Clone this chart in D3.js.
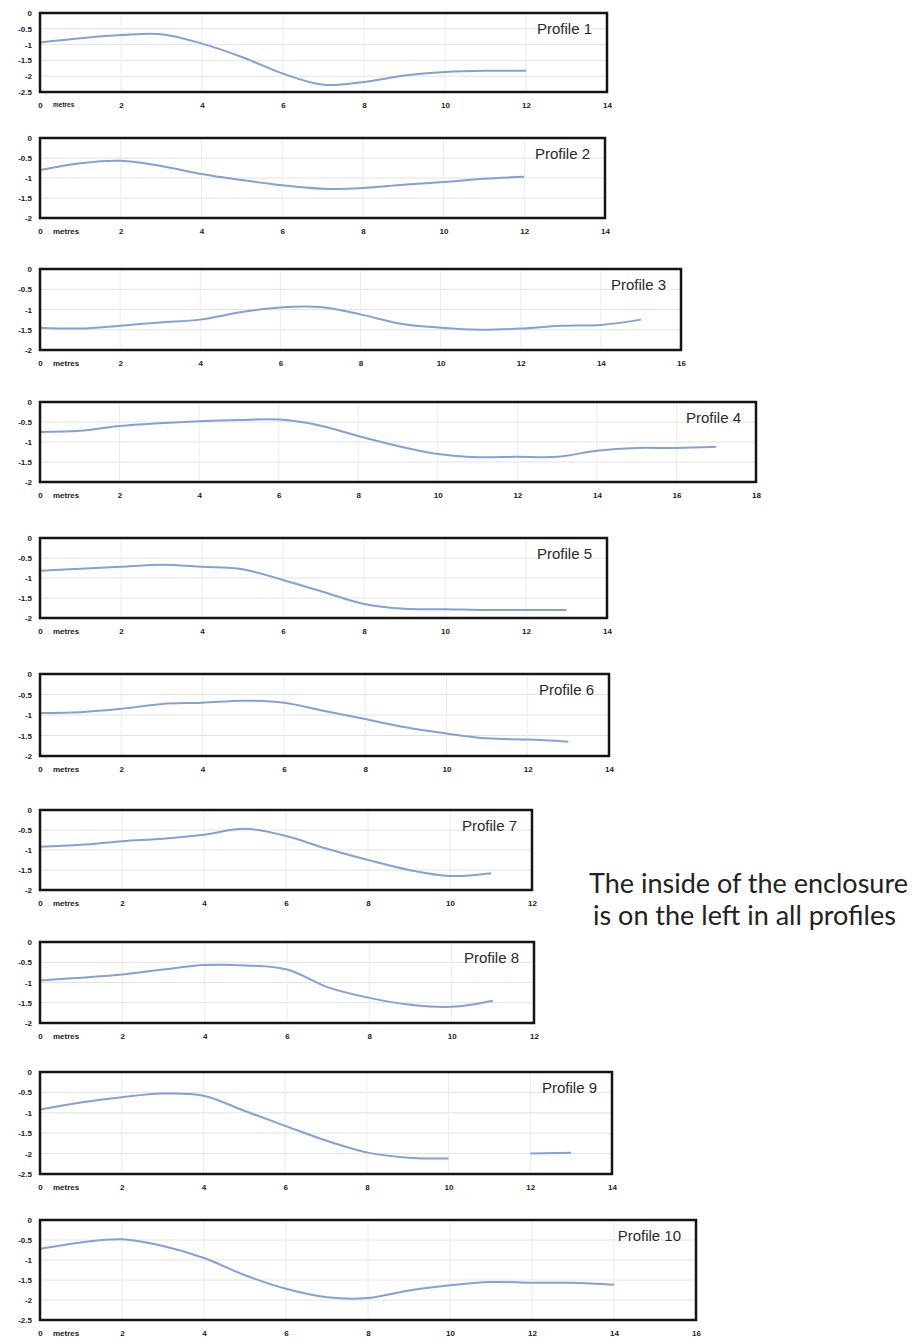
<!DOCTYPE html>
<html>
<head>
<meta charset="utf-8">
<script src="https://cdn.jsdelivr.net/npm/d3@7"></script>
<style>
  body { margin: 0; background: #fff; }
  svg { display: block; }
  .tick text { font-family: "Liberation Sans", Arial, sans-serif; font-size: 8px; font-weight: 700; fill: #222; }
  .title { font-family: "Liberation Sans", Arial, sans-serif; font-size: 15px; fill: #2a2a2a; }
  .note { font-family: Lato, "Open Sans", sans-serif; font-size: 27px; fill: #222; }
</style>
</head>
<body>
<svg id="chart" width="918" height="1338"></svg>
<script>
// depth profiles: [distance in metres, depth]
const profile1 = [[0,-0.93],[1,-0.8],[2,-0.7],[3,-0.67],[4,-0.97],[5,-1.4],[6,-1.92],[7,-2.27],[8,-2.18],[9,-1.98],[10,-1.87],[11,-1.83],[12,-1.83]];
const profile2 = [[0,-0.8],[1,-0.63],[2,-0.57],[3,-0.7],[4,-0.9],[5,-1.05],[6,-1.18],[7,-1.27],[8,-1.25],[9,-1.17],[10,-1.1],[11,-1.02],[12,-0.97]];
const profile3 = [[0,-1.45],[1,-1.47],[2,-1.4],[3,-1.32],[4,-1.25],[5,-1.07],[6,-0.95],[7,-0.94],[8,-1.12],[9,-1.35],[10,-1.45],[11,-1.5],[12,-1.47],[13,-1.4],[14,-1.38],[15,-1.25]];
const profile4 = [[0,-0.75],[1,-0.72],[2,-0.6],[3,-0.53],[4,-0.48],[5,-0.45],[6,-0.44],[7,-0.58],[8,-0.85],[9,-1.1],[10,-1.3],[11,-1.38],[12,-1.37],[13,-1.37],[14,-1.22],[15,-1.15],[16,-1.15],[17,-1.12]];
const profile5 = [[0,-0.82],[1,-0.77],[2,-0.72],[3,-0.67],[4,-0.72],[5,-0.78],[6,-1.05],[7,-1.35],[8,-1.65],[9,-1.77],[10,-1.78],[11,-1.8],[12,-1.8],[13,-1.8]];
const profile6 = [[0,-0.95],[1,-0.93],[2,-0.85],[3,-0.73],[4,-0.7],[5,-0.65],[6,-0.7],[7,-0.9],[8,-1.1],[9,-1.3],[10,-1.45],[11,-1.57],[12,-1.6],[13,-1.65]];
const profile7 = [[0,-0.92],[1,-0.87],[2,-0.78],[3,-0.72],[4,-0.62],[5,-0.47],[6,-0.65],[7,-0.97],[8,-1.25],[9,-1.5],[10,-1.65],[11,-1.58]];
const profile8 = [[0,-0.95],[1,-0.88],[2,-0.8],[3,-0.68],[4,-0.57],[5,-0.58],[6,-0.68],[7,-1.12],[8,-1.38],[9,-1.55],[10,-1.6],[11,-1.45]];
const profile9 = [[0,-0.92],[1,-0.75],[2,-0.62],[3,-0.53],[4,-0.58],[5,-0.95],[6,-1.32],[7,-1.68],[8,-1.97],[9,-2.1],[10,-2.12],[11,null],[12,-2.0],[13,-1.98]];
const profile10 = [[0,-0.72],[1,-0.56],[2,-0.48],[3,-0.65],[4,-0.95],[5,-1.38],[6,-1.72],[7,-1.93],[8,-1.95],[9,-1.76],[10,-1.63],[11,-1.55],[12,-1.57],[13,-1.57],[14,-1.62]];

const profiles = [profile1, profile2, profile3, profile4, profile5, profile6, profile7, profile8, profile9, profile10];
const titles = profiles.map((p, i) => "Profile " + (i + 1));
const xMaxes = [14, 14, 16, 18, 14, 14, 12, 12, 14, 16];
const yMins = [-2.5, -2, -2, -2, -2, -2, -2, -2, -2.5, -2.5];
const noteLines = ["The inside of the enclosure", "is on the left in all profiles"];

// panel placement (pixels)
const left = 40;
const tops = [13, 138, 269, 402, 538, 674, 810, 942, 1072, 1220];
const bottoms = [92, 218, 350, 482, 618, 756, 890, 1023, 1174, 1320];
const rights = [607, 605, 681, 756, 607, 609, 532, 534, 612, 696];

const svg = d3.select("#chart");

profiles.forEach((data, i) => {
  const x = d3.scaleLinear().domain([0, xMaxes[i]]).range([left, rights[i]]);
  const y = d3.scaleLinear().domain([yMins[i], 0]).range([bottoms[i], tops[i]]);
  const g = svg.append("g");

  const yTicks = d3.range(0, yMins[i] - 0.01, -0.5);
  const xTicks = d3.range(0, xMaxes[i] + 0.01, 2);

  // grid
  g.append("g").selectAll("line.h").data(yTicks).join("line")
    .attr("x1", left).attr("x2", rights[i])
    .attr("y1", d => y(d)).attr("y2", d => y(d))
    .attr("stroke", "#e2e2e2").attr("stroke-width", 1);
  g.append("g").selectAll("line.v").data(xTicks).join("line")
    .attr("x1", d => x(d)).attr("x2", d => x(d))
    .attr("y1", tops[i]).attr("y2", bottoms[i])
    .attr("stroke", "#ececec").attr("stroke-width", 1);

  // profile line
  const line = d3.line()
    .defined(d => d[1] != null)
    .x(d => x(d[0])).y(d => y(d[1]))
    .curve(d3.curveCatmullRom.alpha(0.5));
  g.append("path").datum(data)
    .attr("d", line)
    .attr("fill", "none")
    .attr("stroke", "#84a0d8")
    .attr("stroke-width", 2);

  // frame
  g.append("rect")
    .attr("x", left).attr("y", tops[i])
    .attr("width", rights[i] - left).attr("height", bottoms[i] - tops[i])
    .attr("fill", "none").attr("stroke", "#141414").attr("stroke-width", 2.5);

  // axes
  const yAxis = g.append("g")
    .attr("transform", `translate(${left - 5},0)`)
    .call(d3.axisLeft(y).tickValues(yTicks).tickSize(0).tickFormat(d => String(d)));
  yAxis.select(".domain").remove();
  yAxis.selectAll("text").attr("dy", "0.32em");

  const xAxis = g.append("g")
    .attr("transform", `translate(0,${bottoms[i] + 9})`)
    .call(d3.axisBottom(x).tickValues(xTicks).tickSize(0).tickFormat(d => String(d)));
  xAxis.select(".domain").remove();
  xAxis.selectAll("text").attr("dy", "0.32em").attr("y", 4);

  g.append("text")
    .attr("x", left + 13).attr("y", bottoms[i] + 13)
    .attr("dy", "0.32em")
    .attr("font-family", "Liberation Sans, Arial, sans-serif")
    .attr("font-size", i === 0 ? 6.5 : 8).attr("font-weight", 700).attr("fill", "#222")
    .text("metres");

  g.append("text").attr("class", "title")
    .attr("x", rights[i] - 15).attr("y", tops[i] + 21)
    .attr("text-anchor", "end")
    .text(titles[i]);
});

svg.selectAll("text.note").data(noteLines).join("text")
  .attr("class", "note")
  .attr("x", (d, i) => i === 0 ? 589 : 593)
  .attr("y", (d, i) => 893 + i * 32)
  .text(d => d);
</script>
</body>
</html>
